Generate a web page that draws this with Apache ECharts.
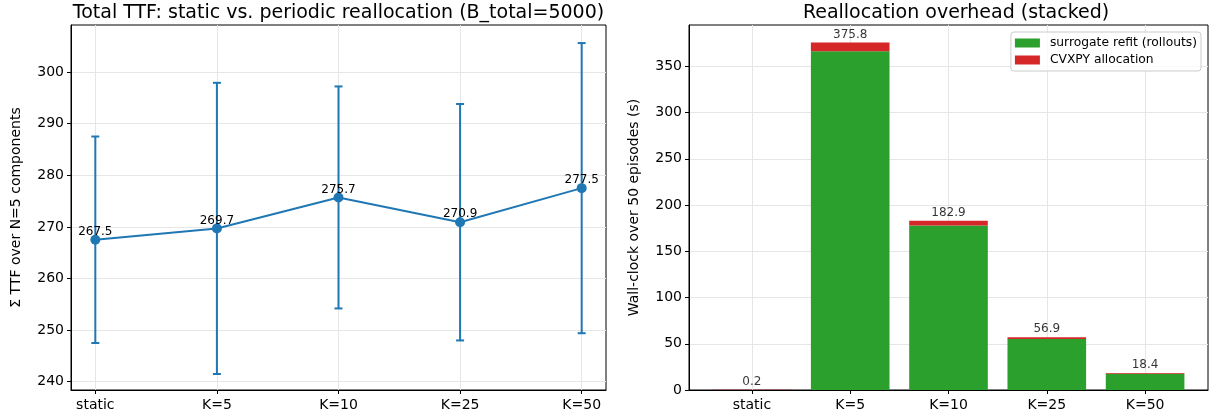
<!DOCTYPE html>
<html>
<head>
<meta charset="utf-8">
<script src="https://cdn.jsdelivr.net/npm/echarts@6/dist/echarts.min.js"></script>
<style>
  html, body { margin: 0; padding: 0; background: #fff; }
  #main { width: 1228px; height: 419px; }
</style>
</head>
<body>
<div id="main"></div>
<script>
    // categories shared by both panels
    var categories = ['static', 'K=5', 'K=10', 'K=25', 'K=50'];

    // left panel: mean total TTF and error half-widths
    var ttfMean = [267.5, 269.7, 275.7, 270.9, 277.5];
    var ttfErr = [20.0, 28.2, 21.5, 22.9, 28.1];
    var ttfTicks = [240, 250, 260, 270, 280, 290, 300];

    // right panel: wall-clock split (s)
    var refitTime = [0.0, 366.1, 177.9, 55.1, 17.5];
    var cvxpyTime = [0.2, 9.7, 5.0, 1.8, 0.9];
    var totalTime = [0.2, 375.8, 182.9, 56.9, 18.4];
    var wallTicks = [0, 50, 100, 150, 200, 250, 300, 350];

    var FONT = 'DejaVu Sans';
    var BLUE = '#1f77b4';
    var GREEN = '#2ca02c';
    var RED = '#d62728';
    var GRID_C = '#e6e6e6';
    var idx = [0, 1, 2, 3, 4];

    var chart = echarts.init(document.getElementById('main'), null, {renderer: 'canvas'});

    function xAxisFor(gridIndex, lo, hi) {
        return {
            type: 'value', gridIndex: gridIndex, min: lo, max: hi,
            axisLine: {show: true, onZero: false, lineStyle: {color: '#000', width: 1}},
            axisTick: {show: true, length: 4, customValues: idx, lineStyle: {color: '#000'}},
            axisLabel: {customValues: idx, margin: 8, color: '#000', fontSize: 14, fontFamily: FONT,
                formatter: function (v) { return categories[Math.round(v)]; }},
            splitLine: {show: true, lineStyle: {color: GRID_C, width: 1}}
        };
    }

    function yAxisFor(gridIndex, lo, hi, ticks, name, gap) {
        return {
            type: 'value', gridIndex: gridIndex, min: lo, max: hi,
            name: name, nameLocation: 'middle', nameGap: gap, nameRotate: 90,
            nameTextStyle: {color: '#000', fontSize: 14, fontFamily: FONT},
            axisLine: {show: true, onZero: false, lineStyle: {color: '#000', width: 1}},
            axisTick: {show: true, length: 4, customValues: ticks, lineStyle: {color: '#000'}},
            axisLabel: {customValues: ticks, margin: 7, color: '#000', fontSize: 14, fontFamily: FONT},
            splitLine: {show: true, lineStyle: {color: GRID_C, width: 1}}
        };
    }

    // one stacked segment per data item: [x, bottom, top]
    function barSegment(params, api) {
        var lo = api.coord([api.value(0), api.value(1)]);
        var hi = api.coord([api.value(0), api.value(2)]);
        var w = api.size([0.8, 0])[0];
        return {
            type: 'rect',
            shape: {x: lo[0] - w / 2, y: hi[1], width: w, height: lo[1] - hi[1]},
            style: {fill: api.visual('color')}
        };
    }

    var option = {
        animation: false,
        backgroundColor: '#fff',
        textStyle: {fontFamily: FONT},
        title: [
            {text: 'Total TTF: static vs. periodic reallocation (B_total=5000)', left: 333.5, top: -1, textAlign: 'center',
                textStyle: {fontSize: 19, fontWeight: 'normal', color: '#000', fontFamily: FONT}},
            {text: 'Reallocation overhead (stacked)', left: 951, top: -1, textAlign: 'center',
                textStyle: {fontSize: 19, fontWeight: 'normal', color: '#000', fontFamily: FONT}}
        ],
        legend: {
            data: [
                {name: 'surrogate refit (rollouts)', icon: 'rect'},
                {name: 'CVXPY allocation', icon: 'rect'}
            ],
            orient: 'vertical', right: 27, top: 32,
            itemWidth: 25, itemHeight: 9, itemGap: 5,
            padding: [5, 4, 5, 4],
            borderColor: '#cccccc', borderWidth: 1, borderRadius: 3,
            backgroundColor: 'rgba(255,255,255,0.8)',
            textStyle: {fontSize: 12.3, color: '#000', fontFamily: FONT, padding: [0, 0, 0, 5]}
        },
        grid: [
            {left: 71, right: 622, top: 25, bottom: 29, show: true, borderColor: '#000', borderWidth: 1},
            {left: 689, right: 20, top: 25, bottom: 29, show: true, borderColor: '#000', borderWidth: 1}
        ],
        xAxis: [xAxisFor(0, -0.2, 4.2), xAxisFor(1, -0.64, 4.64)],
        yAxis: [
            yAxisFor(0, 238.4, 309.1, ttfTicks, 'Σ TTF over N=5 components', 48),
            yAxisFor(1, 0, 394.6, wallTicks, 'Wall-clock over 50 episodes (s)', 48)
        ],
        series: [
            {
                type: 'custom', xAxisIndex: 0, yAxisIndex: 0, z: 3,
                data: idx.map(function (i) { return [i, ttfMean[i] - ttfErr[i], ttfMean[i] + ttfErr[i]]; }),
                renderItem: function (params, api) {
                    var lo = api.coord([api.value(0), api.value(1)]);
                    var hi = api.coord([api.value(0), api.value(2)]);
                    var hw = 4;
                    var st = {stroke: BLUE, lineWidth: 2};
                    return {type: 'group', children: [
                        {type: 'line', shape: {x1: lo[0], y1: lo[1], x2: hi[0], y2: hi[1]}, style: st},
                        {type: 'line', shape: {x1: lo[0] - hw, y1: lo[1], x2: lo[0] + hw, y2: lo[1]}, style: st},
                        {type: 'line', shape: {x1: hi[0] - hw, y1: hi[1], x2: hi[0] + hw, y2: hi[1]}, style: st}
                    ]};
                }
            },
            {
                type: 'line', xAxisIndex: 0, yAxisIndex: 0, z: 4,
                data: idx.map(function (i) { return [i, ttfMean[i]]; }),
                symbol: 'circle', symbolSize: 10,
                lineStyle: {color: BLUE, width: 2},
                itemStyle: {color: BLUE},
                label: {show: true, position: 'top', distance: -3, fontSize: 12, color: '#000', fontFamily: FONT,
                    formatter: function (p) { return p.value[1].toFixed(1); }}
            },
            {
                name: 'surrogate refit (rollouts)', type: 'custom', xAxisIndex: 1, yAxisIndex: 1, z: 2,
                data: idx.map(function (i) { return [i, 0, refitTime[i]]; }),
                itemStyle: {color: GREEN},
                encode: {x: 0, y: [1, 2]},
                renderItem: barSegment
            },
            {
                name: 'CVXPY allocation', type: 'custom', xAxisIndex: 1, yAxisIndex: 1, z: 2,
                data: idx.map(function (i) { return [i, refitTime[i], refitTime[i] + cvxpyTime[i]]; }),
                itemStyle: {color: RED},
                encode: {x: 0, y: [1, 2]},
                renderItem: barSegment
            },
            {
                // total labels above each stack
                type: 'scatter', xAxisIndex: 1, yAxisIndex: 1, z: 5,
                symbolSize: 0, silent: true,
                data: idx.map(function (i) { return [i, totalTime[i]]; }),
                label: {show: true, position: 'top', distance: 2, fontSize: 12, color: '#000', fontFamily: FONT,
                    formatter: function (p) { return totalTime[p.dataIndex].toFixed(1); }}
            }
        ]
    };

    chart.setOption(option);
</script>
</body>
</html>
